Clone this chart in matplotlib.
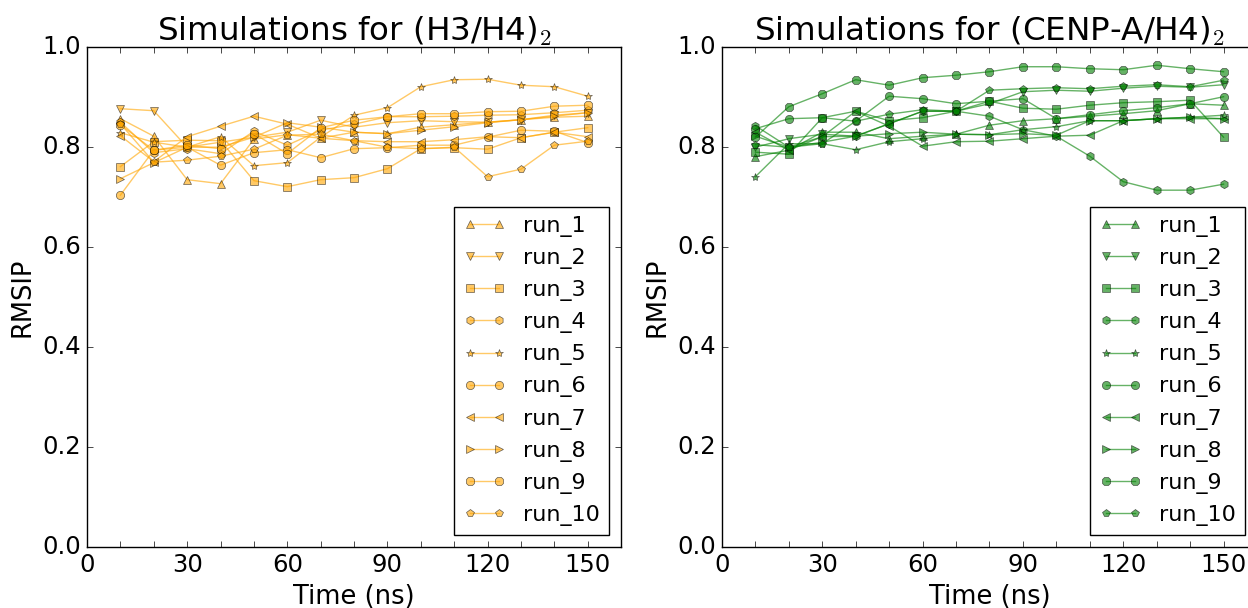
import matplotlib
matplotlib.use('Agg')
import matplotlib.pyplot as plt
from matplotlib.ticker import MultipleLocator

plt.style.use('classic')

time_ns = [10, 20, 30, 40, 50, 60, 70, 80, 90, 100, 110, 120, 130, 140, 150]
run_labels = ['run_1', 'run_2', 'run_3', 'run_4', 'run_5',
              'run_6', 'run_7', 'run_8', 'run_9', 'run_10']
run_markers = ['^', 'v', 's', 'h', '*', 'o', '<', '>', '8', 'p']

# RMSIP per run, (H3/H4)2
h3_run_1 = [0.857, 0.822, 0.735, 0.727, 0.816, 0.825, 0.818, 0.830, 0.827, 0.840, 0.845, 0.850, 0.855, 0.860, 0.862]
h3_run_2 = [0.877, 0.873, 0.800, 0.810, 0.820, 0.830, 0.854, 0.840, 0.849, 0.853, 0.851, 0.850, 0.855, 0.864, 0.869]
h3_run_3 = [0.761, 0.811, 0.814, 0.813, 0.733, 0.721, 0.735, 0.739, 0.757, 0.797, 0.799, 0.796, 0.819, 0.830, 0.839]
h3_run_4 = [0.850, 0.789, 0.797, 0.787, 0.832, 0.804, 0.834, 0.846, 0.861, 0.861, 0.862, 0.864, 0.865, 0.869, 0.874]
h3_run_5 = [0.829, 0.810, 0.800, 0.821, 0.763, 0.769, 0.820, 0.864, 0.879, 0.921, 0.935, 0.936, 0.924, 0.921, 0.902]
h3_run_6 = [0.704, 0.794, 0.800, 0.764, 0.789, 0.795, 0.779, 0.797, 0.799, 0.804, 0.804, 0.820, 0.834, 0.832, 0.809]
h3_run_7 = [0.823, 0.771, 0.821, 0.842, 0.862, 0.846, 0.818, 0.813, 0.811, 0.811, 0.815, 0.821, 0.819, 0.830, 0.821]
h3_run_8 = [0.737, 0.769, 0.800, 0.800, 0.820, 0.849, 0.840, 0.830, 0.827, 0.834, 0.841, 0.849, 0.855, 0.862, 0.869]
h3_run_9 = [0.845, 0.794, 0.804, 0.797, 0.827, 0.787, 0.839, 0.854, 0.861, 0.867, 0.867, 0.871, 0.872, 0.882, 0.884]
h3_run_10 = [0.847, 0.770, 0.774, 0.782, 0.796, 0.824, 0.826, 0.813, 0.800, 0.797, 0.800, 0.741, 0.756, 0.804, 0.812]

# RMSIP per run, (CENP-A/H4)2
cenpa_run_1 = [0.781, 0.794, 0.830, 0.830, 0.817, 0.822, 0.826, 0.844, 0.853, 0.857, 0.862, 0.867, 0.873, 0.887, 0.884]
cenpa_run_2 = [0.800, 0.817, 0.826, 0.822, 0.847, 0.872, 0.872, 0.887, 0.911, 0.914, 0.912, 0.918, 0.922, 0.920, 0.925]
cenpa_run_3 = [0.790, 0.786, 0.859, 0.872, 0.853, 0.859, 0.872, 0.892, 0.878, 0.876, 0.884, 0.889, 0.891, 0.894, 0.820]
cenpa_run_4 = [0.843, 0.800, 0.821, 0.822, 0.847, 0.872, 0.872, 0.862, 0.835, 0.822, 0.782, 0.731, 0.714, 0.714, 0.726]
cenpa_run_5 = [0.741, 0.807, 0.807, 0.795, 0.811, 0.817, 0.826, 0.825, 0.835, 0.841, 0.853, 0.853, 0.857, 0.860, 0.864]
cenpa_run_6 = [0.837, 0.857, 0.859, 0.852, 0.902, 0.897, 0.887, 0.892, 0.897, 0.857, 0.865, 0.873, 0.879, 0.887, 0.901]
cenpa_run_7 = [0.830, 0.794, 0.821, 0.872, 0.842, 0.802, 0.811, 0.812, 0.817, 0.822, 0.824, 0.853, 0.857, 0.857, 0.857]
cenpa_run_8 = [0.822, 0.800, 0.810, 0.822, 0.827, 0.830, 0.826, 0.825, 0.827, 0.824, 0.853, 0.853, 0.857, 0.860, 0.857]
cenpa_run_9 = [0.820, 0.881, 0.907, 0.935, 0.924, 0.939, 0.944, 0.951, 0.961, 0.961, 0.957, 0.955, 0.964, 0.957, 0.951]
cenpa_run_10 = [0.805, 0.800, 0.807, 0.852, 0.866, 0.875, 0.872, 0.914, 0.917, 0.919, 0.917, 0.922, 0.925, 0.921, 0.934]

h3_runs = [h3_run_1, h3_run_2, h3_run_3, h3_run_4, h3_run_5,
           h3_run_6, h3_run_7, h3_run_8, h3_run_9, h3_run_10]
cenpa_runs = [cenpa_run_1, cenpa_run_2, cenpa_run_3, cenpa_run_4, cenpa_run_5,
              cenpa_run_6, cenpa_run_7, cenpa_run_8, cenpa_run_9, cenpa_run_10]


def plot_runs(ax, runs, color, title):
    for values, marker, label in zip(runs, run_markers, run_labels):
        ax.plot(time_ns, values, marker=marker, color=color, alpha=0.6,
                markeredgecolor='k', markeredgewidth=0.5, markersize=6,
                linewidth=1.0, label=label)

    ax.set_xlim(0, 160)
    ax.set_ylim(0.0, 1.0)
    ax.xaxis.set_major_locator(MultipleLocator(30))
    ax.xaxis.set_minor_locator(MultipleLocator(10))
    ax.yaxis.set_major_locator(MultipleLocator(0.2))
    ax.yaxis.set_minor_locator(MultipleLocator(0.2))
    ax.tick_params(which='both', direction='in', length=4, labelsize=17.5)

    ax.set_title(title, fontsize=23.4)
    ax.set_xlabel('Time (ns)', fontsize=18.5)
    ax.set_ylabel('RMSIP', fontsize=18.5)
    ax.legend(loc='lower right', numpoints=2, fontsize=16,
              handlelength=1.9, fancybox=False, borderaxespad=0.55)


fig = plt.figure(figsize=(12.48, 6.08), facecolor='white')
ax1 = fig.add_axes([0.0697, 0.1003, 0.428, 0.822])
ax2 = fig.add_axes([0.5785, 0.1003, 0.4287, 0.822])

plot_runs(ax1, h3_runs, 'orange', r'Simulations for (H3/H4)$_2$')
plot_runs(ax2, cenpa_runs, 'green', r'Simulations for (CENP-A/H4)$_2$')

fig.savefig('out.png', dpi=100, facecolor='white')
